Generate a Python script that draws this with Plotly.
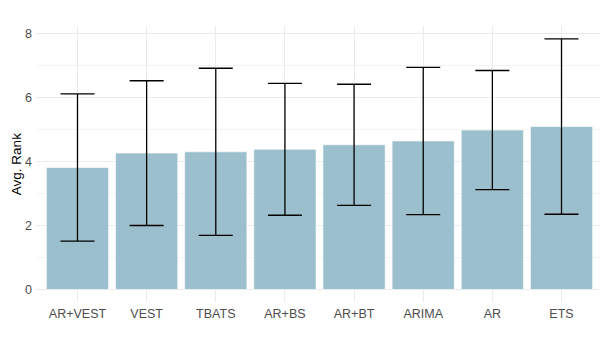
import plotly.graph_objects as go

models = ["AR+VEST", "VEST", "TBATS", "AR+BS", "AR+BT", "ARIMA", "AR", "ETS"]
avg_rank = [3.81, 4.26, 4.30, 4.38, 4.52, 4.64, 4.98, 5.09]
sd_rank = [2.30, 2.26, 2.61, 2.06, 1.89, 2.30, 1.86, 2.74]
y_ticks = [0, 2, 4, 6, 8]

fig = go.Figure()
fig.add_trace(go.Bar(
    x=models, y=avg_rank,
    marker=dict(color="#9BBFCC", line=dict(color="rgba(255,255,255,0.6)", width=1)),
    width=0.9,
    error_y=dict(type="data", array=sd_rank, visible=True, color="black", thickness=1.3, width=17),
))

# page body has an 8px default margin, so the figure is sized to fit the 608x342 window
fig.update_layout(
    width=600, height=334,
    margin=dict(l=28, r=5, t=18, b=40, autoexpand=False),
    plot_bgcolor="white", paper_bgcolor="white",
    font=dict(family="Liberation Sans, Arial, sans-serif", size=12.5, color="#4D4D4D"),
    showlegend=False,
    bargap=0.1,
    annotations=[dict(
        text="Avg. Rank", xref="paper", yref="paper", x=-0.035, y=0.5,
        xanchor="center", yanchor="middle", textangle=-90, showarrow=False,
        font=dict(size=13.5, color="black"),
    )],
)
fig.update_xaxes(
    range=[-0.6, 7.6], automargin=False,
    showgrid=True, gridcolor="#EBEBEB", gridwidth=1,
    showline=False, zeroline=False, ticks="", ticklabelstandoff=2,
    tickfont=dict(size=12.5, color="#4D4D4D"),
)
fig.update_yaxes(
    range=[-0.39, 8.23], automargin=False,
    tickvals=y_ticks, ticktext=[str(v) for v in y_ticks],
    showgrid=True, gridcolor="#EBEBEB", gridwidth=1,
    minor=dict(dtick=1, showgrid=True, gridcolor="#F3F3F3", gridwidth=0.6, tick0=1),
    zeroline=False, showline=False, ticks="", ticklabelstandoff=3,
    tickfont=dict(size=12.5, color="#4D4D4D"),
)
fig.write_html("out.html")
